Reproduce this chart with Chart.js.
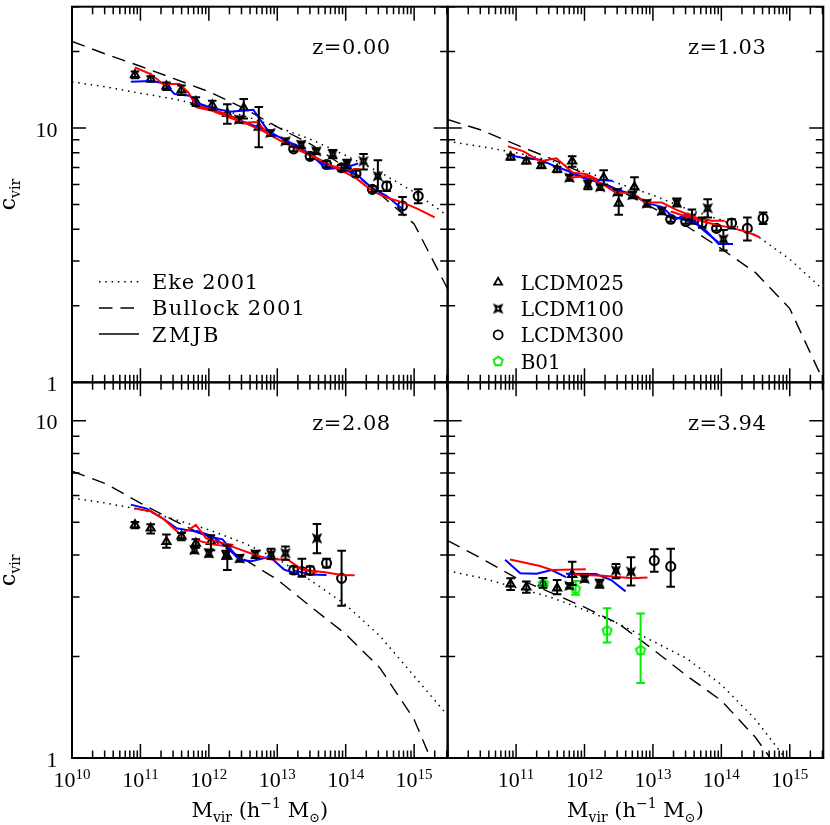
<!DOCTYPE html>
<html>
<head>
<meta charset="utf-8">
<title>c_vir vs M_vir</title>
<script src="https://cdn.jsdelivr.net/npm/chart.js@4.4.1/dist/chart.umd.min.js"></script>
<style>
  html, body { margin: 0; padding: 0; background: #fff; }
  #box { position: relative; width: 830px; height: 825px; }
</style>
</head>
<body>
<div id="box"><canvas id="chart" width="830" height="825"></canvas></div>
<script>
// axis ranges
const X_MIN = 1e10;
const X_MAX = Math.pow(10, 15.49);
const Y_MAX_TOP = 30;
const Y_MAX_BOT = 13;

const X_EXP_LEFT = [10, 11, 12, 13, 14, 15];
const X_EXP_RIGHT = [11, 12, 13, 14, 15];
const Y_LABELS = [1, 10];
const MINOR_MULT = [2, 3, 4, 5, 6, 7, 8, 9];

// model curves, sampled on a common log10(M) grid
const LOGM_MODEL = [10, 10.5, 11, 11.5, 12, 12.5, 13, 13.5, 14, 14.5, 15, 15.5];

const EKE_Z0 = [15.2, 14.5, 13.7, 13.0, 12.1, 11.2, 10.1, 9.0, 7.8, 6.7, 5.6, 4.5];
const BULLOCK_Z0 = [21.9, 19.5, 17.5, 15.6, 13.9, 12.0, 10.1, 8.6, 7.0, 5.5, 4.2, 2.3];
const EKE_Z1 = [8.87, 8.45, 8.0, 7.45, 6.75, 6.05, 5.45, 4.8, 4.35, 3.8, 3.05, 2.3];
const BULLOCK_Z1 = [10.8, 9.8, 8.6, 7.6, 6.6, 5.7, 4.85, 4.1, 3.35, 2.7, 1.95, 1.0];
const EKE_Z2 = [5.9, 5.7, 5.45, 5.1, 4.75, 4.35, 3.9, 3.35, 2.85, 2.3, 1.75, 1.33];
const BULLOCK_Z2 = [7.09, 6.5, 5.7, 5.05, 4.5, 3.9, 3.38, 2.8, 2.33, 1.85, 1.3, 0.75];
const EKE_Z3 = [3.59, 3.42, 3.2, 3.0, 2.75, 2.5, 2.22, 1.97, 1.65, 1.3, 0.96, 0.71];
const BULLOCK_Z3 = [4.41, 3.9, 3.42, 3.1, 2.8, 2.5, 2.1, 1.75, 1.48, 1.15, 0.83, 0.62];

// simulation points: [log10 M, c, c_low, c_high]
const L025_Z0 = [[10.92,16.2,15.7,16.7],[11.15,15.6,15.2,16.0],[11.38,14.6,14.1,15.1],[11.60,14.1,13.5,14.7],[11.81,12.7,12.2,13.2],[12.05,12.3,11.8,12.8],[12.27,11.4,10.4,12.4],[12.51,12.0,10.9,13.0],[12.73,10.05,8.4,12.1]];
const L100_Z0 = [[12.44,10.8,10.5,11.1],[12.90,9.56,9.3,9.8],[13.12,8.87,8.65,9.1],[13.35,8.6,8.35,8.85],[13.57,8.1,7.9,8.3],[13.81,7.9,7.6,8.2],[14.02,7.23,6.95,7.5],[14.26,7.4,6.87,7.9],[14.47,6.47,5.65,7.47]];
const L300_Z0 = [[13.24,8.28,8.1,8.45],[13.48,7.74,7.55,7.95],[13.72,7.19,7.0,7.4],[13.94,6.98,6.8,7.15],[14.15,6.63,6.45,6.8],[14.39,5.74,5.6,5.9],[14.60,5.91,5.65,6.15],[14.83,4.94,4.56,5.36],[15.06,5.40,5.06,5.74]];

const L025_Z1 = [[10.92,7.68,7.5,7.85],[11.15,7.41,7.25,7.6],[11.37,7.12,6.95,7.3],[11.60,6.87,6.7,7.05],[11.82,7.41,7.05,7.74],[12.28,6.38,6.0,6.83],[12.50,5.06,4.56,5.45],[12.73,5.86,5.33,6.41]];
const L100_Z1 = [[11.78,6.38,6.2,6.55],[12.05,6.0,5.75,6.2],[12.23,5.86,5.7,6.0],[12.48,5.6,5.45,5.75],[12.70,5.45,5.3,5.6],[12.91,5.05,4.9,5.2],[13.13,4.72,4.58,4.86],[13.35,5.09,4.91,5.28],[13.57,4.45,4.2,4.78],[13.80,4.84,4.45,5.25],[14.03,3.66,3.30,3.97]];
const L300_Z1 = [[13.26,4.38,4.28,4.48],[13.48,4.29,4.2,4.38],[13.72,4.23,4.05,4.45],[13.93,4.03,3.95,4.12],[14.15,4.23,4.03,4.38],[14.38,4.03,3.61,4.45],[14.61,4.42,4.19,4.65]];

const L025_Z2 = [[10.92,4.91,4.8,5.01],[11.15,4.80,4.63,4.93],[11.38,4.38,4.2,4.6],[11.60,4.55,4.42,4.65],[11.81,4.33,4.2,4.45],[12.03,4.38,4.13,4.58],[12.27,3.96,3.61,4.27]];
const L100_Z2 = [[11.79,4.14,4.05,4.23],[12.0,4.05,3.95,4.15],[12.25,4.0,3.9,4.12],[12.45,3.91,3.82,4.0],[12.68,4.02,3.92,4.12],[12.91,4.02,3.89,4.17],[13.12,4.05,3.87,4.24],[13.58,4.48,4.05,4.94]];
const L300_Z2 = [[13.24,3.61,3.52,3.7],[13.36,3.57,3.45,3.9],[13.48,3.6,3.5,3.7],[13.72,3.78,3.67,3.9],[13.94,3.41,2.83,4.12]];

const L025_Z3 = [[10.92,3.28,3.15,3.41],[11.15,3.21,3.09,3.34],[11.39,3.3,3.2,3.42],[11.60,3.19,3.06,3.37],[11.82,3.5,3.26,3.82]];
const L100_Z3 = [[11.78,3.24,3.18,3.3],[12.0,3.40,3.33,3.47],[12.22,3.29,3.2,3.38],[12.46,3.60,3.41,3.76],[12.68,3.57,3.25,3.94]];
const L300_Z3 = [[13.02,3.85,3.57,4.16],[13.26,3.70,3.22,4.17]];
const B01_Z3 = [[11.40,3.30,3.2,3.42],[11.87,3.18,3.05,3.35],[12.33,2.39,2.2,2.78],[12.82,2.09,1.67,2.68]];

// ZMJB model lines: [log10 M, c]
const RED_Z0_A = [[10.92,17.3],[11.15,16.3],[11.33,14.9],[11.57,14.9],[11.70,13.8],[11.81,12.3],[12.05,11.8],[12.27,11.3],[12.51,10.5],[12.70,10.55],[12.90,9.3]];
const RED_Z0_B = [[11.80,12.1],[12.05,11.7],[12.30,11.0],[12.55,10.4],[12.80,9.7],[13.05,8.9],[13.30,8.3],[13.55,7.7],[13.80,7.1],[14.05,6.85],[14.20,6.9]];
const RED_Z0_C = [[13.24,8.4],[13.48,7.8],[13.72,7.25],[13.94,6.8],[14.15,6.35],[14.39,5.65],[14.60,5.33],[14.83,5.1],[15.06,4.8],[15.30,4.45]];
const BLUE_Z0_A = [[10.86,15.2],[11.15,15.3],[11.35,15.0],[11.50,13.6],[11.72,13.4],[11.85,12.5],[12.05,12.0],[12.30,11.6],[12.65,11.8],[12.87,9.7],[13.00,9.3]];
const BLUE_Z0_B = [[11.78,12.7],[12.0,12.0],[12.25,11.3],[12.5,10.6],[12.75,10.0],[13.0,9.3],[13.25,8.6],[13.48,7.9],[13.72,6.9],[14.0,7.0],[14.18,7.25]];
const BLUE_Z0_C = [[13.24,8.4],[13.48,7.8],[13.72,7.1],[13.94,6.9],[14.15,6.6],[14.39,5.8],[14.60,5.4],[14.83,4.8]];

const RED_Z1_A = [[10.88,8.47],[11.11,8.1],[11.35,7.41],[11.59,7.6],[11.83,6.67],[12.02,6.6],[12.19,6.28]];
const RED_Z1_B = [[11.78,6.38],[12.02,6.48],[12.27,6.0],[12.46,5.57],[12.70,5.57],[12.89,5.09],[13.13,5.09],[13.33,4.79],[13.62,4.45],[13.86,4.32],[14.05,4.32]];
const RED_Z1_C = [[13.26,4.7],[13.48,4.5],[13.72,4.3],[13.95,4.15],[14.15,4.05],[14.38,3.9],[14.56,3.72]];
const BLUE_Z1_A = [[10.87,7.85],[11.11,7.63],[11.35,7.5],[11.59,7.04],[11.83,6.67],[12.07,6.28],[12.41,6.2]];
const BLUE_Z1_B = [[11.78,6.67],[12.0,6.35],[12.22,6.1],[12.45,5.75],[12.70,5.5],[12.89,5.09],[13.13,4.9],[13.33,4.38],[13.50,4.58],[13.72,4.0],[13.96,3.55]];
const BLUE_Z1_C = [[13.26,4.5],[13.48,4.35],[13.72,4.1],[13.96,3.5],[14.17,3.5]];

const RED_Z2_A = [[10.92,5.49],[11.15,5.39],[11.33,5.13],[11.57,4.63],[11.70,4.74],[11.81,4.91],[11.96,4.48],[12.22,4.33],[12.36,4.28]];
const RED_Z2_B = [[11.81,4.43],[12.05,4.3],[12.36,4.22],[12.68,4.0],[12.91,3.88],[13.15,3.88],[13.36,3.62],[13.58,3.55]];
const RED_Z2_C = [[13.24,3.69],[13.48,3.6],[13.72,3.55],[13.94,3.49],[14.13,3.48]];
const BLUE_Z2_A = [[10.86,5.64],[11.09,5.49],[11.33,5.13],[11.53,4.8],[11.79,4.7],[12.03,4.52],[12.20,4.45],[12.37,4.05],[12.46,3.85]];
const BLUE_Z2_B = [[11.81,4.72],[12.05,4.55],[12.27,4.2],[12.45,3.87],[12.62,3.83],[12.89,3.95],[13.10,3.62],[13.32,3.5]];
const BLUE_Z2_C = [[13.24,3.6],[13.48,3.5],[13.72,3.49]];

const RED_Z3_A = [[10.91,3.88],[11.35,3.71],[11.52,3.61],[12.02,3.63]];
const RED_Z3_B = [[11.83,3.5],[12.27,3.47],[12.70,3.41],[12.92,3.43]];
const BLUE_Z3_A = [[10.84,3.87],[11.06,3.53],[11.30,3.52],[11.52,3.61],[11.73,3.44]];
const BLUE_Z3_B = [[11.73,3.52],[12.17,3.51],[12.39,3.37],[12.60,3.12]];

const REDSHIFTS = ['z=0.00', 'z=1.03', 'z=2.08', 'z=3.94'];
const CURVE_LABELS = ['Eke 2001', 'Bullock 2001', 'ZMJB'];
const SIM_LABELS = ['LCDM025', 'LCDM100', 'LCDM300', 'B01'];

const RED = '#ff0000';
const BLUE = '#0000ff';
const GREEN = '#00ee00';
const DOTS = [1.5, 4.8];
const DASHES = [13.5, 8];

const FONT_TXT = '"DejaVu Serif", serif';
const FONT_NUM = '"Liberation Serif", "DejaVu Serif", serif';


function makeStar(color) {
  const c = document.createElement('canvas');
  c.width = 12; c.height = 12;
  const g = c.getContext('2d');
  g.strokeStyle = color;
  g.lineWidth = 2;
  g.beginPath();
  for (let i = 0; i < 8; i++) {
    const a = Math.PI / 4 + i * Math.PI / 4;
    const r = i % 2 === 0 ? 4.6 : 1.8;
    const px = 6 + r * Math.cos(a), py = 6 + r * Math.sin(a);
    if (i === 0) g.moveTo(px, py); else g.lineTo(px, py);
  }
  g.closePath();
  g.stroke();
  return c;
}

function makePentagon(color) {
  const c = document.createElement('canvas');
  c.width = 14; c.height = 14;
  const g = c.getContext('2d');
  g.strokeStyle = color;
  g.lineWidth = 1.9;
  g.beginPath();
  for (let i = 0; i < 5; i++) {
    const a = -Math.PI / 2 + i * 2 * Math.PI / 5;
    const px = 7 + 4.8 * Math.cos(a), py = 7.4 + 4.8 * Math.sin(a);
    if (i === 0) g.moveTo(px, py); else g.lineTo(px, py);
  }
  g.closePath();
  g.stroke();
  return c;
}

const STAR = makeStar('#000');
const PENT = makePentagon(GREEN);

const MARKERS = [
  { style: 'triangle', radius: 4.6, color: '#000' },
  { style: STAR, radius: 4.5, color: '#000' },
  { style: 'circle', radius: 4.5, color: '#000' },
  { style: PENT, radius: 4.5, color: GREEN },
];


function rowsXY(rows) {
  return rows.map(r => ({ x: Math.pow(10, r[0]), y: r[1] }));
}

function curveXY(vals) {
  return vals.map((v, i) => ({ x: Math.pow(10, LOGM_MODEL[i]), y: v }));
}

function lineSet(data, color, xid, yid, dash, width) {
  return {
    data: data,
    showLine: true,
    borderColor: color,
    borderWidth: width,
    borderDash: dash || [],
    pointRadius: 0,
    tension: 0,
    fill: false,
    xAxisID: xid,
    yAxisID: yid,
  };
}

function pointSet(rows, marker, xid, yid) {
  return {
    data: rowsXY(rows),
    errLo: rows.map(r => r[2]),
    errHi: rows.map(r => r[3]),
    showLine: false,
    pointStyle: marker.style,
    pointRadius: marker.radius,
    pointBorderWidth: 2.1,
    pointBorderColor: marker.color,
    pointBackgroundColor: 'rgba(0,0,0,0)',
    borderColor: marker.color,
    xAxisID: xid,
    yAxisID: yid,
  };
}

const PANELS = [
  { x: 'xL', y: 'yT', z: REDSHIFTS[0], eke: EKE_Z0, bul: BULLOCK_Z0,
    red: [RED_Z0_A, RED_Z0_B, RED_Z0_C], blue: [BLUE_Z0_A, BLUE_Z0_B, BLUE_Z0_C],
    pts: [L025_Z0, L100_Z0, L300_Z0, null] },
  { x: 'xR', y: 'yT', z: REDSHIFTS[1], eke: EKE_Z1, bul: BULLOCK_Z1,
    red: [RED_Z1_A, RED_Z1_B, RED_Z1_C], blue: [BLUE_Z1_A, BLUE_Z1_B, BLUE_Z1_C],
    pts: [L025_Z1, L100_Z1, L300_Z1, null] },
  { x: 'xL', y: 'yB', z: REDSHIFTS[2], eke: EKE_Z2, bul: BULLOCK_Z2,
    red: [RED_Z2_A, RED_Z2_B, RED_Z2_C], blue: [BLUE_Z2_A, BLUE_Z2_B, BLUE_Z2_C],
    pts: [L025_Z2, L100_Z2, L300_Z2, null] },
  { x: 'xR', y: 'yB', z: REDSHIFTS[3], eke: EKE_Z3, bul: BULLOCK_Z3,
    red: [RED_Z3_A, RED_Z3_B], blue: [BLUE_Z3_A, BLUE_Z3_B],
    pts: [L025_Z3, L100_Z3, L300_Z3, B01_Z3] },
];

// first dataset ends up on top
const datasets = [];
PANELS.forEach(p => {
  p.red.forEach(r => datasets.push(lineSet(rowsXY(r), RED, p.x, p.y, null, 2)));
  p.blue.forEach(r => datasets.push(lineSet(rowsXY(r), BLUE, p.x, p.y, null, 2)));
});
PANELS.forEach(p => {
  for (let k = 3; k >= 0; k--) {
    if (p.pts[k]) datasets.push(pointSet(p.pts[k], MARKERS[k], p.x, p.y));
  }
});
PANELS.forEach(p => {
  datasets.push(lineSet(curveXY(p.eke), '#000', p.x, p.y, DOTS, 1.5));
  datasets.push(lineSet(curveXY(p.bul), '#000', p.x, p.y, DASHES, 1.4));
});


function richWidth(ctx, parts) {
  let w = 0;
  parts.forEach(p => {
    ctx.font = p.size + 'px ' + (p.fam || FONT_TXT);
    ctx.letterSpacing = (p.sp || 0) + 'px';
    w += ctx.measureText(p.t).width;
  });
  ctx.letterSpacing = '0px';
  return w;
}

function drawRich(ctx, parts, x, y, align) {
  const w = richWidth(ctx, parts);
  let cx = align === 'center' ? x - w / 2 : align === 'right' ? x - w : x;
  ctx.textAlign = 'left';
  ctx.textBaseline = 'alphabetic';
  parts.forEach(p => {
    ctx.font = p.size + 'px ' + (p.fam || FONT_TXT);
    ctx.letterSpacing = (p.sp || 0) + 'px';
    ctx.fillText(p.t, cx, y + (p.dy || 0));
    cx += ctx.measureText(p.t).width;
  });
  ctx.letterSpacing = '0px';
}

function panelTicks(ctx, xs, ys) {
  const big = 14, small = 7.5;
  ctx.beginPath();
  for (let e = 10; e <= 15; e++) {
    const dec = Math.pow(10, e);
    [1].concat(MINOR_MULT).forEach(m => {
      const v = m * dec;
      if (v < xs.min || v > xs.max) return;
      const px = xs.getPixelForValue(v);
      const len = m === 1 ? big : small;
      ctx.moveTo(px, ys.bottom); ctx.lineTo(px, ys.bottom - len);
      ctx.moveTo(px, ys.top); ctx.lineTo(px, ys.top + len);
    });
  }
  [1, 10].forEach(dec => {
    [1].concat(MINOR_MULT).forEach(m => {
      const v = m * dec;
      if (v < ys.min || v > ys.max) return;
      const py = ys.getPixelForValue(v);
      const len = m === 1 ? big : small;
      ctx.moveTo(xs.left, py); ctx.lineTo(xs.left + len, py);
      ctx.moveTo(xs.right, py); ctx.lineTo(xs.right - len, py);
    });
  });
  ctx.lineWidth = 1.5;
  ctx.strokeStyle = '#000';
  ctx.stroke();
}

const panelPlugin = {
  id: 'panels',
  beforeDatasetDraw(chart, args) {
    const m = args.meta;
    const xs = chart.scales[m.xAxisID], ys = chart.scales[m.yAxisID];
    const ctx = chart.ctx;
    ctx.save();
    ctx.beginPath();
    ctx.rect(xs.left, ys.top, xs.right - xs.left, ys.bottom - ys.top);
    ctx.clip();
  },
  afterDatasetDraw(chart) {
    chart.ctx.restore();
  },
  afterDatasetsDraw(chart) {
    const ctx = chart.ctx;
    chart.data.datasets.forEach((ds, i) => {
      if (!ds.errLo) return;
      const meta = chart.getDatasetMeta(i);
      const xs = chart.scales[meta.xAxisID], ys = chart.scales[meta.yAxisID];
      ctx.save();
      ctx.beginPath();
      ctx.rect(xs.left, ys.top, xs.right - xs.left, ys.bottom - ys.top);
      ctx.clip();
      ctx.strokeStyle = ds.borderColor;
      ctx.lineWidth = 2;
      ctx.beginPath();
      ds.data.forEach((pt, j) => {
        const px = xs.getPixelForValue(pt.x);
        const lo = ys.getPixelForValue(ds.errLo[j]);
        const hi = ys.getPixelForValue(ds.errHi[j]);
        ctx.moveTo(px, lo); ctx.lineTo(px, hi);
        ctx.moveTo(px - 4.3, lo); ctx.lineTo(px + 4.3, lo);
        ctx.moveTo(px - 4.3, hi); ctx.lineTo(px + 4.3, hi);
      });
      ctx.stroke();
      ctx.restore();
    });
  },
  afterDraw(chart) {
    const ctx = chart.ctx;
    const S = chart.scales;
    ctx.save();
    ctx.fillStyle = '#000';

    PANELS.forEach(p => {
      const xs = S[p.x], ys = S[p.y];
      panelTicks(ctx, xs, ys);
      ctx.lineWidth = 2;
      ctx.strokeStyle = '#000';
      ctx.strokeRect(xs.left, ys.top, xs.right - xs.left, ys.bottom - ys.top);
      drawRich(ctx, [{ t: p.z, size: 21, sp: 0.5 }], xs.right - 57, ys.top + 47.5, 'right');
    });

    // y tick labels
    [S.yT, S.yB].forEach(ys => {
      Y_LABELS.forEach(v => {
        const py = ys.getPixelForValue(v);
        drawRich(ctx, [{ t: String(v), size: 22, fam: FONT_NUM }], S.xL.left - 14.5, py + 8.5, 'right');
      });
      const cy = (ys.top + ys.bottom) / 2;
      ctx.save();
      ctx.translate(15, cy);
      ctx.rotate(-Math.PI / 2);
      drawRich(ctx, [{ t: 'c', size: 22 }, { t: 'vir', size: 14, dy: 5 }], 0, 0, 'center');
      ctx.restore();
    });

    // x tick labels and titles
    [[S.xL, X_EXP_LEFT], [S.xR, X_EXP_RIGHT]].forEach(([xs, exps]) => {
      const base = S.yB.bottom;
      exps.forEach(e => {
        const px = xs.getPixelForValue(Math.pow(10, e));
        drawRich(ctx, [
          { t: '10', size: 22, fam: FONT_NUM },
          { t: String(e), size: 15, fam: FONT_NUM, dy: -8 },
        ], px, base + 29, 'center');
      });
      drawRich(ctx, [
        { t: 'M', size: 21 },
        { t: 'vir', size: 14, dy: 5 },
        { t: ' (h', size: 21 },
        { t: '\u22121', size: 14, dy: -9 },
        { t: ' M', size: 21 },
        { t: '\u2299', size: 13, dy: 5 },
        { t: ')', size: 21 },
      ], (xs.left + xs.right) / 2, base + 58.5, 'center');
    });

    // legend of model curves (top-left panel)
    const xl = S.xL, yt = S.yT;
    const lineStyles = [DOTS, DASHES, []];
    const legendSpacing = [0.8, 1.2, 2.2];
    CURVE_LABELS.forEach((lab, i) => {
      const y = yt.top + 275 + i * 26.2;
      ctx.setLineDash(lineStyles[i]);
      ctx.lineWidth = 1.5;
      ctx.strokeStyle = '#000';
      ctx.beginPath();
      ctx.moveTo(xl.left + 27, y);
      ctx.lineTo(xl.left + 67, y);
      ctx.stroke();
      ctx.setLineDash([]);
      drawRich(ctx, [{ t: lab, size: 21, sp: legendSpacing[i] }], xl.left + 80, y + 7.5, 'left');
    });

    // legend of simulations (top-right panel)
    const xr = S.xR;
    SIM_LABELS.forEach((lab, i) => {
      const y = yt.top + 275.7 + i * 26.2;
      const mk = MARKERS[i];
      ctx.strokeStyle = mk.color;
      ctx.fillStyle = 'rgba(0,0,0,0)';
      ctx.lineWidth = 1.8;
      Chart.helpers.drawPoint(ctx, { pointStyle: mk.style, radius: mk.radius, borderWidth: 1.8, rotation: 0 }, xr.left + 50.5, y);
      ctx.fillStyle = '#000';
      drawRich(ctx, [{ t: lab, size: 20 }], xr.left + 73, y + 7.5, 'left');
    });

    ctx.restore();
  },
};

new Chart(document.getElementById('chart'), {
  type: 'scatter',
  data: { datasets: datasets },
  options: {
    responsive: false,
    animation: false,
    devicePixelRatio: 1,
    events: [],
    layout: { padding: { left: 72, right: 1, top: 1, bottom: 67 } },
    plugins: { legend: { display: false }, tooltip: { enabled: false } },
    scales: {
      xL: { type: 'logarithmic', position: 'bottom', stack: 'cols', stackWeight: 1, weight: 1, min: X_MIN, max: X_MAX, display: false },
      xR: { type: 'logarithmic', position: 'bottom', stack: 'cols', stackWeight: 1, weight: 2, min: X_MIN, max: X_MAX, display: false },
      yT: { type: 'logarithmic', position: 'left', stack: 'rows', stackWeight: 1, weight: 2, min: 1, max: Y_MAX_TOP, display: false },
      yB: { type: 'logarithmic', position: 'left', stack: 'rows', stackWeight: 1, weight: 1, min: 1, max: Y_MAX_BOT, display: false },
    },
  },
  plugins: [panelPlugin],
});
</script>
</body>
</html>
